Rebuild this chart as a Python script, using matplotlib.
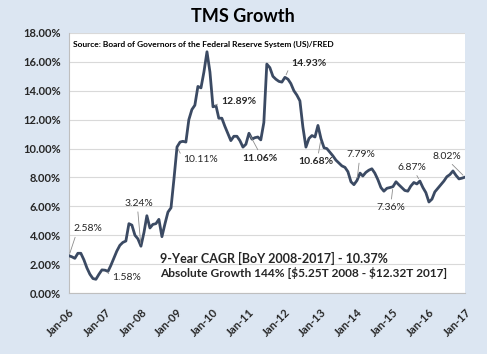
import pandas as pd
import matplotlib.pyplot as plt

# monthly TMS growth, Jan-2006 .. Jan-2017 (percent)
growth = [
    2.58, 2.50, 2.40, 2.75, 2.75, 2.30, 1.75, 1.30, 1.00, 0.95, 1.30, 1.60,
    1.58, 1.50, 1.90, 2.40, 2.90, 3.30, 3.50, 3.60, 4.80, 4.70, 4.00, 3.75,
    3.24, 4.20, 5.35, 4.50, 4.75, 4.80, 5.10, 3.90, 4.80, 5.60, 5.90, 7.90,
    10.11, 10.45, 10.50, 10.45, 12.00, 12.70, 13.00, 14.30, 14.20, 15.30, 16.70, 15.30,
    12.89, 12.95, 12.10, 12.10, 11.55, 11.05, 10.55, 10.85, 10.85, 10.55, 10.10, 10.30,
    11.06, 10.65, 10.75, 10.80, 10.60, 11.80, 15.85, 15.60, 15.00, 14.80, 14.65, 14.60,
    14.93, 14.80, 14.50, 14.00, 13.70, 13.30, 11.50, 10.10, 10.70, 10.90, 10.80, 11.60,
    10.68, 10.05, 10.00, 9.75, 9.50, 9.20, 9.00, 8.80, 8.70, 8.40, 7.70, 7.50,
    7.79, 8.30, 8.10, 8.35, 8.50, 8.60, 8.30, 7.85, 7.30, 7.05, 7.25, 7.30,
    7.36, 7.70, 7.50, 7.30, 7.10, 7.05, 7.40, 7.65, 7.55, 7.75, 7.30, 6.95,
    6.30, 6.50, 7.00, 7.25, 7.50, 7.75, 8.05, 8.20, 8.45, 8.15, 7.90, 7.95,
    8.02,
]
dates = pd.date_range("2006-01-01", periods=len(growth), freq="MS")

tick_dates = pd.date_range("2006-01-01", "2017-01-01", freq="12MS")
tick_labels = [d.strftime("Jan-%y") for d in tick_dates]
y_ticks = list(range(0, 20, 2))

# (month index, label, bold, offset px (dx, dy), relpos)
notes = [
    (0, "2.58%", False, (19, 27), (0.1, 0)),
    (12, "1.58%", False, (22, -7), (0, 0.5)),
    (24, "3.24%", False, (-2, 43), (0.45, 0)),
    (36, "10.11%", False, (24, -13), (0, 0.5)),
    (48, "12.89%", True, (26, 5), (0, 0.5)),
    (60, "11.06%", True, (11, -25), (0.5, 1)),
    (72, "14.93%", True, (24, 14), (0, 0.5)),
    (84, "10.68%", True, (-5, -23), (0.55, 1)),
    (96, "7.79%", False, (4, 26), (0.45, 0)),
    (108, "7.36%", False, (-2, -21), (0.5, 1)),
    (117, "6.87%", False, (-8, 14), (0.6, 0)),
    (132, "8.02%", False, (-18, 21), (0.55, 0)),
]

bg = "#dce6f2"
line_col = "#3b4a63"
txt_col = "#262626"
plt.rcParams["font.family"] = ["Lato", "DejaVu Sans"]
plt.rcParams["text.parse_math"] = False

fig = plt.figure(figsize=(4.87, 3.54), dpi=100, facecolor=bg)
ax = fig.add_axes([0.1417, 0.1723, 0.8131, 0.7345])
ax.set_facecolor("white")

ax.plot(dates, growth, color=line_col, lw=2.0, solid_joinstyle="round", zorder=3)

ax.set_xlim(dates[0], dates[-1])
ax.set_ylim(0, 18)
ax.set_yticks(y_ticks)
ax.set_yticklabels([f"{v:.2f}%" for v in y_ticks], fontsize=8, fontweight="bold", color=txt_col)
ax.set_xticks(tick_dates)
ax.set_xticklabels(tick_labels, fontsize=8, fontweight="bold", color=txt_col,
                   rotation=45, ha="right", rotation_mode="anchor")
ax.tick_params(axis="both", length=0)
ax.tick_params(axis="x", pad=10)
ax.tick_params(axis="y", pad=6)
ax.grid(axis="y", color="#d9d9d9", lw=0.8)
ax.set_axisbelow(True)
for side in ["top", "right"]:
    ax.spines[side].set_visible(False)
for side in ["left", "bottom"]:
    ax.spines[side].set_color("#bfbfbf")
    ax.spines[side].set_linewidth(0.8)

for i, label, bold, (dx, dy), rp in notes:
    ax.annotate(label, xy=(dates[i], growth[i]), xytext=(dx * 0.72, dy * 0.72),
                textcoords="offset points", ha="center", va="center",
                fontsize=7.5, fontweight="bold" if bold else "normal", color=txt_col,
                arrowprops=dict(arrowstyle="-", color="#8c8c8c", lw=0.6,
                                shrinkA=1, shrinkB=2, relpos=rp))

ax.text(0.01, 0.958, "Source: Board of Governors of the Federal Reserve System (US)/FRED",
        transform=ax.transAxes, fontsize=6, fontweight="bold", color="black", va="center")
ax.text(0.23, 0.133, "9-Year CAGR [BoY 2008-2017] - 10.37%", transform=ax.transAxes,
        fontsize=9, fontweight="bold", color=txt_col, va="center")
ax.text(0.23, 0.078, "Absolute Growth 144% [$5.25T 2008 - $12.32T 2017]", transform=ax.transAxes,
        fontsize=8.6, fontweight="bold", color=txt_col, va="center")

fig.text(0.499, 0.952, "TMS Growth", ha="center", va="center",
         fontsize=13, fontweight="bold", color="black")

fig.savefig("out.png", dpi=100, facecolor=bg)
